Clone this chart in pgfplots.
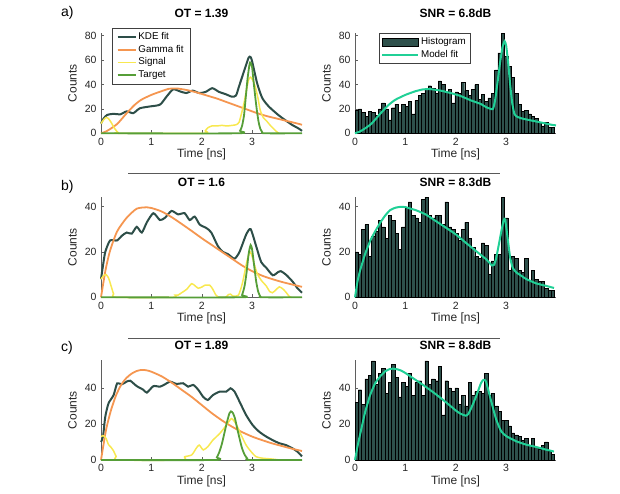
\documentclass[border=0pt]{standalone}
\usepackage{fontspec}
\setmainfont{Liberation Sans}
\usepackage{pgfplots}
\pgfplotsset{compat=1.18}
\usepackage{pgfplotstable}

\definecolor{kde}{RGB}{45,78,72}
\definecolor{histc}{RGB}{46,80,75}
\definecolor{gam}{RGB}{245,150,80}
\definecolor{sig}{RGB}{248,232,80}
\definecolor{tgt}{RGB}{86,158,56}
\definecolor{mfit}{RGB}{32,208,150}
\definecolor{axc}{RGB}{95,95,95}

\pgfplotstableread{
t a b c
0.000 19 20 32
0.066 20 19 39
0.132 17 30 31
0.198 14 32 45
0.264 18 18 47
0.330 17 27 55
0.396 15 29 42
0.462 20 34 48
0.528 25 31 51
0.594 20 26 37
0.660 11 36 43
0.726 21 34 53
0.792 24 28 46
0.858 17 21 35
0.924 24 31 43
0.990 22 39 41
1.056 26 42 48
1.122 16 36 36
1.188 27 35 43
1.254 31 33 44
1.320 33 43 36
1.386 36 44 55
1.452 39 36 42
1.518 37 35 45
1.584 33 36 44
1.650 43 36 52
1.716 40 32 25
1.782 34 42 44
1.848 36 31 40
1.914 25 30 38
1.980 34 28 40
2.046 33 25 31
2.112 42 30 36
2.178 35 33 30
2.244 31 26 43
2.310 36 22 36
2.376 40 18 38
2.442 28 17 38
2.508 32 24 37
2.574 26 23 48
2.640 29 10 36
2.706 33 16 37
2.772 52 19 30
2.838 66 19 27
2.904 82 44 22
2.970 63 35 22
3.036 55 12 19
3.102 46 18 15
3.168 33 17 14
3.234 24 12 13
3.300 18 11 11
3.366 19 17 12
3.432 16 7 8
3.498 14 12 12
3.564 12 8 7
3.630 9 7 6
3.696 6 7 8
3.762 9 4 10
3.828 5 3 5
3.894 5 3 3
3.960 0 0 0
}\hist

\pgfplotsset{
 panel/.style={
  scale only axis, width=201pt, height=100pt,
  xmin=0, xmax=3.99, ymin=0,
  axis x line*=bottom, axis y line*=left,
  axis line style={axc, line width=0.5pt},
  tick style={axc, line width=0.5pt},
  tick align=inside, major tick length=3pt,
  xtick={0,1,2,3},
  /pgf/number format/assume math mode=true,
  tick label style={font=\fontsize{10.5}{12}\selectfont, text=black!85},
  yticklabel style={xshift=-1pt},
  xticklabel style={yshift=-1pt},
  label style={font=\fontsize{12}{14}\selectfont, text=black!85},
  xlabel={Time [ns]}, ylabel={Counts},
  xlabel style={at={(axis description cs:0.5,0)}, anchor=base, yshift=-24.4pt},
  ylabel style={at={(axis description cs:-0.121,0.5)}, anchor=base},
  clip=false,
  title style={font=\bfseries\fontsize{12}{14}\selectfont, at={(axis description cs:0.5,1)}, anchor=base},
 },
 legstyle/.style={legend style={draw=black!75, font=\fontsize{9.8}{11}\selectfont,
    inner xsep=#1, inner ysep=2.6pt, row sep=0pt, column sep=0pt,
    nodes={text height=7pt, text depth=2pt, inner sep=1.8pt},
    cells={anchor=west}}},
 kdel/.style={kde, line width=2pt, smooth, tension=0.4},
 gaml/.style={gam, line width=1.8pt, smooth, tension=0.4},
 sigl/.style={sig, line width=1.5pt, smooth, tension=0.4},
 tgtl/.style={tgt, line width=1.8pt, smooth, tension=0.4},
 mfl/.style={mfit, line width=2pt, smooth, tension=0.3},
 histl/.style={ybar interval, fill=histc, draw=black, line width=0.35pt},
 histleg/.style={legend image code/.code={\draw[fill=histc,draw=black,line width=0.4pt] (0pt,-4.2pt) rectangle (36pt,4.2pt);}},
 lineleg/.style={legend image code/.code={\draw[##1] (0pt,0pt) -- (36pt,0pt);}},
 shortleg/.style={legend image code/.code={\draw[##1] (0pt,0pt) -- (18pt,0pt);}},
}

\begin{document}
\begin{tikzpicture}[x=1pt,y=1pt]
\path[use as bounding box] (0,0) rectangle (620,493);

% ---------------- row a ----------------
\begin{axis}[panel, at={(101pt,359.7pt)}, anchor=south west, ymax=82,
  ytick={0,20,40,60,80}, title={OT = 1.39}, title style={yshift=10pt},
  legstyle=4.8pt,
  legend style={at={(axis description cs:0.053,1.053)}, anchor=north west},
  shortleg]
\addplot[kdel] coordinates {(0,8) (0.05,12) (0.12,15) (0.25,16) (0.38,15.5) (0.51,18) (0.64,16.5) (0.77,20.5) (0.97,22) (1.17,23.5) (1.3,30) (1.43,36) (1.56,34.5) (1.69,33) (1.82,35) (1.95,33) (2.08,34) (2.21,37) (2.34,34) (2.48,32) (2.6,30) (2.68,31) (2.74,38.5) (2.84,51) (2.93,62) (2.97,62.5) (3.0,59) (3.1,41) (3.2,29) (3.33,22) (3.52,15) (3.65,11) (3.79,7) (3.92,4) (3.99,2)};
\addlegendentry{KDE fit}
\addplot[gaml] coordinates {(0,0) (0.1,1.5) (0.2,4) (0.33,8) (0.5,16) (0.66,23) (0.8,27.5) (1.0,31.5) (1.2,34.5) (1.35,36.5) (1.5,36.8) (1.7,35.5) (1.9,33.5) (2.1,31) (2.3,28.5) (2.5,25.5) (2.7,22.5) (2.9,19.5) (3.1,16.5) (3.3,14) (3.5,12) (3.7,10) (3.9,8) (3.99,7)};
\addlegendentry{Gamma fit}
\addplot[sigl] coordinates {(0,8) (0.05,11) (0.1,13) (0.15,12) (0.2,9) (0.27,4) (0.33,1) (0.38,0) (2.03,0) (2.07,2) (2.12,4.5) (2.2,6) (2.3,6) (2.4,6.5) (2.5,6) (2.6,6.5) (2.68,7) (2.74,9) (2.8,18) (2.84,25) (2.9,38) (2.93,44) (2.97,46) (3.02,43) (3.07,37) (3.12,28) (3.16,19) (3.22,13) (3.29,10) (3.36,6.5) (3.42,4) (3.48,1.5) (3.53,0)};
\addlegendentry{Signal}
\addplot[tgtl] coordinates {(0,0) (2.7,0) (2.76,2) (2.8,6) (2.84,15) (2.87,28) (2.91,45) (2.95,57) (2.97,58) (3.0,54) (3.03,42) (3.07,27) (3.1,17) (3.13,9) (3.16,4) (3.2,1) (3.25,0) (3.99,0)};
\addlegendentry{Target}
\end{axis}

\begin{axis}[panel, at={(355pt,359.7pt)}, anchor=south west, ymax=82,
  ytick={0,20,40,60,80}, title={SNR = 6.8dB}, title style={yshift=10pt},
  legstyle=2.2pt,
  legend style={at={(axis description cs:0.119,1.003)}, anchor=north west},
  lineleg]
\addplot[histl, histleg] table[x=t,y=a] {\hist};
\addlegendentry{Histogram}
\addplot[mfl] coordinates {(0,0) (0.1,1.5) (0.2,4) (0.33,8) (0.5,16) (0.66,23) (0.8,27.5) (1.0,31.5) (1.2,34.5) (1.35,36) (1.5,36.2) (1.7,35) (1.9,33) (2.1,30.5) (2.3,27) (2.5,24) (2.6,21.5) (2.735,19.8) (2.78,27) (2.83,42) (2.88,58) (2.93,71) (2.97,75.5) (3.0,72) (3.04,58) (3.08,40) (3.12,25) (3.16,16.5) (3.2,14) (3.3,12.3) (3.5,10.5) (3.7,8.8) (3.9,7) (3.99,6.5)};
\addlegendentry{Model fit}
\end{axis}

\draw[black!65, line width=1pt] (128pt,319.7pt) -- (500pt,319.7pt);

% ---------------- row b ----------------
\begin{axis}[panel, at={(101pt,195.7pt)}, anchor=south west, ymax=44,
  ytick={0,20,40}, title={OT = 1.6}, title style={yshift=5pt}]
\addplot[kdel] coordinates {(0,8) (0.04,14) (0.085,20) (0.18,25) (0.32,25) (0.41,27) (0.51,28.5) (0.61,28) (0.71,31) (0.81,28.5) (0.91,33) (1.04,37) (1.17,34) (1.27,35) (1.4,38) (1.53,36.5) (1.66,37) (1.76,34) (1.86,35.5) (1.96,32) (2.09,30.5) (2.19,28.5) (2.32,22.5) (2.42,20) (2.52,19) (2.65,17) (2.75,20) (2.88,27.5) (2.97,30) (3.08,22.5) (3.18,15.5) (3.28,13) (3.41,9.7) (3.51,11) (3.57,11.5) (3.67,10) (3.8,7) (3.9,4) (3.99,2)};
\addplot[gaml] coordinates {(0,0) (0.09,12) (0.18,20.5) (0.32,29) (0.51,35) (0.71,39) (0.91,39.6) (1.0,39.3) (1.2,37.8) (1.4,35.3) (1.6,32.3) (1.8,29.2) (2.0,26) (2.2,23) (2.4,20) (2.6,17) (2.8,14) (3.0,11.5) (3.2,9.5) (3.4,8) (3.6,6.7) (3.8,5.6) (3.99,4.6)};
\addplot[sigl] coordinates {(0,8) (0.05,9.5) (0.1,10) (0.15,8.5) (0.2,5) (0.25,1.5) (0.3,0) (1.42,0) (1.47,1) (1.53,1) (1.6,2) (1.7,3.5) (1.8,6) (1.87,5) (1.93,4) (2.0,4.5) (2.06,5.3) (2.16,5.3) (2.22,3.5) (2.28,1) (2.33,0) (2.47,0) (2.53,1.2) (2.57,1.4) (2.62,0.5) (2.68,0.5) (2.73,1) (2.78,4) (2.82,7.5) (2.87,13) (2.91,17) (2.96,20) (3.0,18) (3.05,14) (3.1,10.5) (3.18,7.5) (3.28,5) (3.35,2.5) (3.4,2) (3.46,3) (3.54,4.6) (3.62,3.5) (3.68,2) (3.74,0.3) (3.78,0)};
\addplot[tgtl] coordinates {(0,0) (2.76,0) (2.8,1) (2.85,5) (2.89,11) (2.93,19) (2.97,23) (3.0,21) (3.04,14) (3.08,7) (3.12,2.5) (3.16,0.5) (3.2,0) (3.99,0)};
\end{axis}

\begin{axis}[panel, at={(355pt,195.7pt)}, anchor=south west, ymax=44,
  ytick={0,20,40}, title={SNR = 8.3dB}, title style={yshift=5pt}]
\addplot[histl] table[x=t,y=b] {\hist};
\addplot[mfl] coordinates {(0,0) (0.05,7) (0.1,11.7) (0.2,19) (0.3,24.8) (0.4,29) (0.5,32.8) (0.6,36) (0.7,38.4) (0.8,39.4) (0.9,39.8) (1.0,39.7) (1.1,39) (1.2,38.4) (1.4,36.5) (1.6,33.6) (1.8,30.7) (2.0,27.7) (2.2,24) (2.4,20.4) (2.6,16.8) (2.72,14) (2.76,14.3) (2.8,17) (2.85,22.6) (2.9,28.5) (2.95,33.9) (2.98,34.3) (3.03,26) (3.08,17.5) (3.13,13) (3.2,11) (3.3,9.5) (3.4,8) (3.6,6.1) (3.8,5) (3.95,4.1)};
\end{axis}

\draw[black!65, line width=1pt] (128pt,155pt) -- (500pt,155pt);

% ---------------- row c ----------------
\begin{axis}[panel, at={(101pt,33pt)}, anchor=south west, ymax=55.5,
  ytick={0,20,40}, title={OT = 1.89}, title style={yshift=5pt}]
\addplot[kdel] coordinates {(0,10) (0.04,13) (0.085,24) (0.15,31.5) (0.25,36) (0.32,42.5) (0.41,42) (0.51,43.5) (0.58,44) (0.71,41) (0.84,39) (0.91,37.4) (1.04,41) (1.17,40.7) (1.27,42) (1.37,43.5) (1.5,42.2) (1.63,42.6) (1.73,40.7) (1.83,41.7) (1.93,39) (2.03,35) (2.12,33.3) (2.22,36) (2.36,38) (2.49,38) (2.57,39.8) (2.65,38) (2.75,32.4) (2.88,25) (3.01,19.4) (3.14,15.7) (3.28,13) (3.41,11) (3.54,9.3) (3.67,8.3) (3.8,6.5) (3.9,4.6) (3.99,2)};
\addplot[gaml] coordinates {(0,0) (0.1,16.7) (0.2,27.8) (0.3,36) (0.4,41.7) (0.5,45.4) (0.6,47.8) (0.7,49.3) (0.8,50) (0.9,49.8) (1.0,49) (1.2,46.5) (1.4,43) (1.6,39) (1.8,35) (2.0,30.5) (2.2,26) (2.4,22) (2.6,18.5) (2.8,15.5) (3.0,13) (3.2,11) (3.4,9.2) (3.6,7.7) (3.8,6.2) (3.99,5)};
\addplot[sigl] coordinates {(0,13) (0.05,13.5) (0.1,12) (0.15,8.5) (0.2,7) (0.25,5) (0.3,2) (0.35,0) (1.6,0) (1.66,1.8) (1.8,2.8) (1.89,6.5) (1.95,8.3) (2.03,5.6) (2.12,7.4) (2.22,11) (2.36,14.8) (2.49,19.4) (2.59,23) (2.68,20) (2.78,14) (2.88,8.3) (2.98,4.6) (3.08,1.8) (3.21,1) (3.41,0.5) (3.54,0)};
\addplot[tgtl] coordinates {(0,0) (2.25,0) (2.3,1.5) (2.35,4.5) (2.4,9) (2.45,15) (2.5,21) (2.55,26) (2.58,27) (2.62,26) (2.66,23) (2.7,18) (2.75,12) (2.8,6.5) (2.85,3) (2.9,1) (2.95,0) (3.99,0)};
\end{axis}

\begin{axis}[panel, at={(355pt,33pt)}, anchor=south west, ymax=55.5,
  ytick={0,20,40}, title={SNR = 8.8dB}, title style={yshift=5pt}]
\addplot[histl] table[x=t,y=c] {\hist};
\addplot[mfl] coordinates {(0,0) (0.05,7.6) (0.1,14) (0.2,26.5) (0.3,36) (0.4,42.6) (0.5,46.4) (0.6,49.2) (0.7,50.6) (0.8,50.6) (0.9,49.8) (1.0,48.3) (1.2,44.5) (1.4,40.7) (1.6,36.6) (1.8,32.2) (2.0,27.5) (2.1,25.6) (2.2,24.6) (2.25,25.6) (2.3,28.4) (2.4,35) (2.5,42.6) (2.55,44.5) (2.6,43.6) (2.7,33) (2.8,22.7) (2.9,16) (3.0,13.3) (3.2,10.4) (3.4,8.5) (3.6,7.2) (3.8,5.7) (3.95,4.7)};
\end{axis}

% panel letters
\node[anchor=west, font=\fontsize{14}{16}\selectfont, inner sep=0pt] at (61pt,480pt) {a)};
\node[anchor=west, font=\fontsize{14}{16}\selectfont, inner sep=0pt] at (61pt,306pt) {b)};
\node[anchor=west, font=\fontsize{14}{16}\selectfont, inner sep=0pt] at (61pt,145pt) {c)};
\end{tikzpicture}
\end{document}
